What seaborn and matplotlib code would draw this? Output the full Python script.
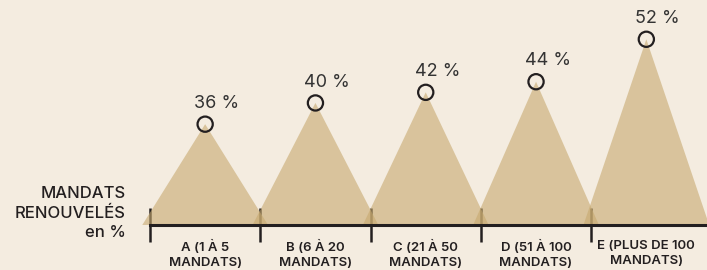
import numpy as np
import pandas as pd
import seaborn as sns
import matplotlib.pyplot as plt

# data
categories = ['A (1 À 5\nMANDATS)', 'B (6 À 20\nMANDATS)', 'C (21 À 50\nMANDATS)',
              'D (51 À 100\nMANDATS)', 'E (PLUS DE 100\nMANDATS)']
renewed = [36, 40, 42, 44, 52]
value_labels = ['36 %', '40 %', '42 %', '44 %', '52 %']

bg = '#f4ece0'
fill = '#c7a96f'
ink = '#231f20'

sns.set_theme(style='white')
plt.rcParams['font.family'] = ['Inter', 'DejaVu Sans']

df = pd.DataFrame({'cat': categories, 'pos': np.arange(len(categories)), 'val': renewed})

fig = plt.figure(figsize=(7.07, 2.70), dpi=100, facecolor=bg)
ax = fig.add_axes([150 / 707, 45 / 270, 557 / 707, 225 / 270])
ax.set_facecolor(bg)

base = 17
half = 0.57
# triangles ("mountains"), one per category
for p, v in zip(df['pos'], df['val']):
    ax.fill([p - half, p, p + half], [base, v, base], color=fill, alpha=0.6,
            lw=0, zorder=1, clip_on=False)

sns.scatterplot(data=df, x='pos', y='val', ax=ax, s=120, marker='o',
                facecolor='none', edgecolor=ink, linewidth=1.6, zorder=3,
                clip_on=False, legend=False)

for p, v, lab in zip(df['pos'], df['val'], value_labels):
    ax.annotate(lab, (p, v), xytext=(-8, 15), textcoords='offset points',
                ha='left', va='center', fontsize=13, color='#333333')

ax.set_xlim(-0.5, 4.55)
ax.set_ylim(base, 59.4)

for s in ['top', 'right', 'left']:
    ax.spines[s].set_visible(False)
ax.spines['bottom'].set_color(ink)
ax.spines['bottom'].set_linewidth(2.2)
ax.spines['bottom'].set_zorder(4)

ax.set_yticks([])
ax.set_xticks(np.arange(-0.5, 4, 1))
ax.set_xticklabels([])
ax.tick_params(axis='x', which='major', direction='inout', length=24,
               width=1.8, color=ink, bottom=True)
ax.set_xticks(df['pos'], minor=True)
ax.set_xticklabels(categories, minor=True, fontsize=9.5, fontweight='semibold',
                   color=ink, linespacing=1.25)
ax.tick_params(axis='x', which='minor', length=0, pad=11)
ax.set_xlabel('')
ax.set_ylabel('')

fig.text(126 / 707, 1 - 213 / 270, 'MANDATS\nRENOUVELÉS\nen %', ha='right',
         va='center', fontsize=12, color=ink, linespacing=1.35,
         fontweight='medium')

fig.savefig('out.png', dpi=100, facecolor=bg)
